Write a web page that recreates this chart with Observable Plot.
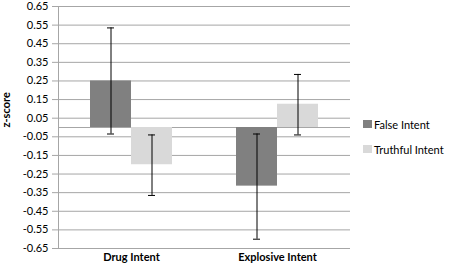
<!DOCTYPE html>
<html>
<head>
<meta charset="utf-8">
<script src="https://cdn.jsdelivr.net/npm/d3@7"></script>
<script src="https://cdn.jsdelivr.net/npm/@observablehq/plot@0.6"></script>
<style>
  body { margin: 0; background: #fff; }
  #wrap { position: relative; width: 456px; height: 266px; font-family: Lato, "Open Sans", sans-serif; }
  #legend { position: absolute; left: 363px; top: 117px; font-size: 11px; color: #000; }
  .item { display: flex; align-items: center; height: 14px; margin-bottom: 11px; }
  .sw { width: 9px; height: 8px; margin-right: 2px; }
</style>
</head>
<body>
<div id="wrap"></div>
<script>
const categories = ["Drug Intent", "Explosive Intent"];
const series = ["False Intent", "Truthful Intent"];
const falseMeans = [0.25, -0.315];
const falseLow = [-0.035, -0.6];
const falseHigh = [0.535, -0.035];
const truthMeans = [-0.2, 0.125];
const truthLow = [-0.365, -0.04];
const truthHigh = [-0.04, 0.285];
const yTickLabels = ["0.65","0.55","0.45","0.35","0.25","0.15","0.05","-0.05","-0.15","-0.25","-0.35","-0.45","-0.55","-0.65"];
const colors = ["#808080", "#d9d9d9"];

const yTicks = yTickLabels.map(Number);
const rows = [];
categories.forEach((c, i) => {
  rows.push({category: c, series: series[0], mean: falseMeans[i], low: falseLow[i], high: falseHigh[i]});
  rows.push({category: c, series: series[1], mean: truthMeans[i], low: truthLow[i], high: truthHigh[i]});
});
const grid = "#a6a6a6";

const chart = Plot.plot({
  width: 456, height: 266,
  marginLeft: 57, marginRight: 106, marginTop: 6, marginBottom: 18,
  style: {fontFamily: "Lato, 'Open Sans', sans-serif", fontSize: "11px", color: "#000", background: "#fff"},
  fx: {domain: categories, padding: 0},
  x: {domain: series, paddingInner: 0, paddingOuter: 0.744, axis: null},
  y: {domain: [-0.65, 0.65]},
  color: {domain: series, range: colors},
  marks: [
    Plot.gridY(yTicks, {stroke: grid, strokeOpacity: 1}),
    Plot.ruleY([0], {stroke: grid}),
    Plot.frame({anchor: "left", facetAnchor: "left", stroke: grid}),
    Plot.barY(rows, {fx: "category", x: "series", y: "mean", fill: "series"}),
    Plot.ruleX(rows, {fx: "category", x: "series", y1: "low", y2: "high", stroke: "#000"}),
    Plot.tickY(rows, {fx: "category", x: "series", y: "low", stroke: "#000", insetLeft: 17, insetRight: 17}),
    Plot.tickY(rows, {fx: "category", x: "series", y: "high", stroke: "#000", insetLeft: 17, insetRight: 17}),
    Plot.axisY(yTicks, {tickFormat: d => yTickLabels[yTicks.indexOf(d)], tickSize: 6, tickPadding: 4, stroke: grid, fill: "#000", label: null}),
    Plot.axisFx({anchor: "bottom", tickSize: 0, tickPadding: 5, fontWeight: "bold", label: null}),
    Plot.text(["z-score"], {fx: () => categories[0], frameAnchor: "left", dx: -52, rotate: -90, fontWeight: "bold", fontSize: 11, fill: "#000"})
  ]
});
const wrap = document.getElementById("wrap");
wrap.appendChild(chart);
const legend = document.createElement("div");
legend.id = "legend";
series.forEach((s, i) => {
  const item = document.createElement("div");
  item.className = "item";
  const sw = document.createElement("span");
  sw.className = "sw";
  sw.style.background = colors[i];
  const t = document.createElement("span");
  t.textContent = s;
  item.appendChild(sw); item.appendChild(t);
  legend.appendChild(item);
});
wrap.appendChild(legend);
</script>
</body>
</html>
